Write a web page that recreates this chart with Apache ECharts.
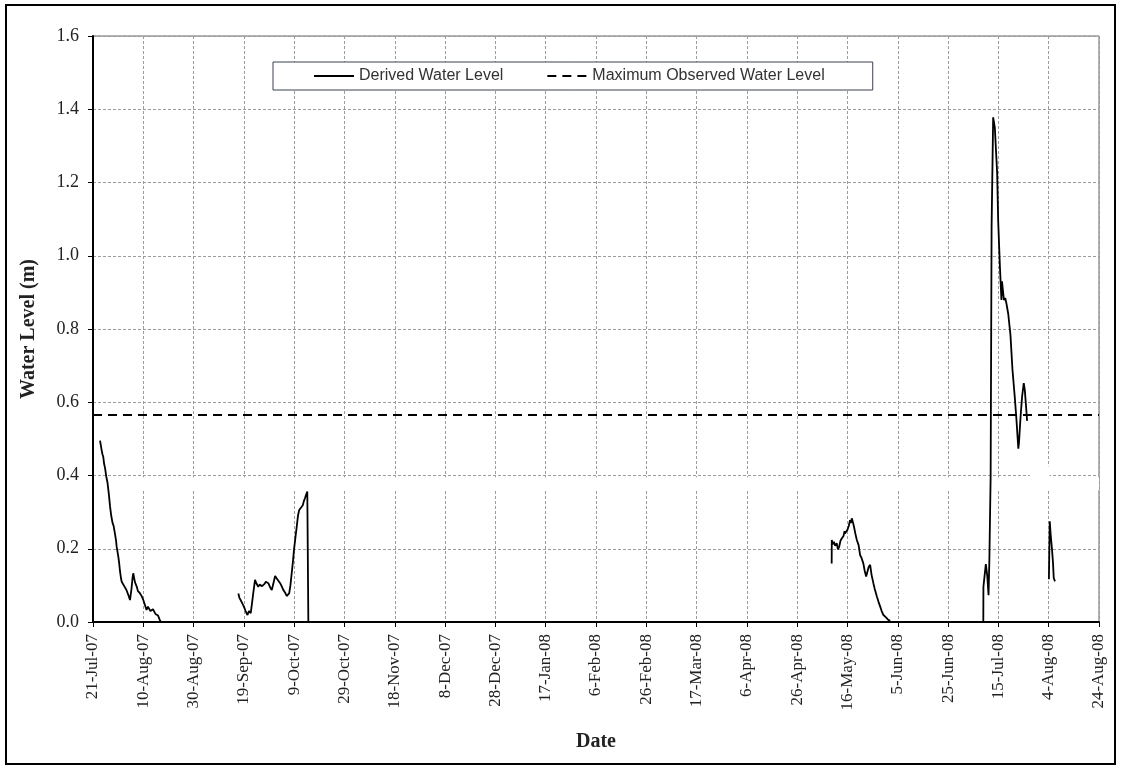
<!DOCTYPE html>
<html>
<head>
<meta charset="utf-8">
<script src="https://cdn.jsdelivr.net/npm/echarts@6/dist/echarts.min.js"></script>
<style>
html,body{margin:0;padding:0;background:#fff;}
#chart{width:1121px;height:770px;}
</style>
</head>
<body>
<div id="chart"></div>
<script>
// ---- data ----
const seriesNames = ['Derived Water Level', 'Maximum Observed Water Level'];

// Derived water level: timestamps and levels (m); null marks a gap in the record
const dates = [
  '2007-07-23 19:00','2007-07-24 04:00','2007-07-24 10:00','2007-07-24 18:00','2007-07-25 02:00','2007-07-25 10:00','2007-07-25 19:00','2007-07-26 06:00','2007-07-26 17:00','2007-07-27 02:00','2007-07-27 07:00','2007-07-27 19:00','2007-07-28 06:00','2007-07-28 19:00','2007-07-29 05:00','2007-07-29 17:00','2007-07-30 04:00','2007-07-30 10:00','2007-07-31 02:00','2007-07-31 10:00','2007-07-31 17:00','2007-08-01 04:00','2007-08-01 10:00','2007-08-02 02:00','2007-08-02 10:00','2007-08-02 17:00','2007-08-03 06:00','2007-08-03 17:00','2007-08-04 06:00','2007-08-04 17:00','2007-08-05 07:00','2007-08-05 18:00','2007-08-06 00:00','2007-08-06 10:00','2007-08-06 17:00','2007-08-07 10:00','2007-08-07 20:00','2007-08-08 06:00','2007-08-08 17:00','2007-08-09 10:00','2007-08-10 00:00','2007-08-10 14:00','2007-08-11 07:00','2007-08-11 20:00','2007-08-12 07:00','2007-08-12 20:00','2007-08-13 07:00','2007-08-13 20:00','2007-08-14 07:00','2007-08-14 20:00','2007-08-15 07:00','2007-08-15 20:00','2007-08-16 14:00','2007-08-17 00:00',
  '2007-08-20 00:00',
  '2007-08-27 00:00','2007-08-27 04:00',
  '2007-08-29 00:00',
  '2007-09-01 17:00','2007-09-01 21:00',
  '2007-09-05 00:00',
  '2007-09-10 17:00','2007-09-10 21:00',
  '2007-09-12 00:00',
  '2007-09-13 03:00','2007-09-13 07:00',
  '2007-09-15 00:00',
  '2007-09-16 19:00','2007-09-17 05:00','2007-09-17 17:00','2007-09-18 10:00','2007-09-19 00:00','2007-09-19 16:00','2007-09-20 10:00','2007-09-21 00:00','2007-09-21 17:00','2007-09-22 05:00','2007-09-22 17:00','2007-09-23 10:00','2007-09-24 00:00','2007-09-24 17:00','2007-09-25 05:00','2007-09-25 17:00','2007-09-26 05:00','2007-09-26 17:00','2007-09-27 05:00','2007-09-27 17:00','2007-09-28 05:00','2007-09-28 17:00','2007-09-29 10:00','2007-09-30 02:00','2007-09-30 17:00','2007-10-01 10:00','2007-10-01 22:00','2007-10-02 10:00','2007-10-03 10:00','2007-10-04 00:00','2007-10-04 17:00','2007-10-05 10:00','2007-10-06 00:00','2007-10-06 12:00','2007-10-07 00:00','2007-10-07 12:00','2007-10-08 00:00','2007-10-08 12:00','2007-10-08 22:00','2007-10-09 12:00','2007-10-10 00:00','2007-10-10 12:00','2007-10-11 00:00','2007-10-11 12:00','2007-10-12 10:00','2007-10-12 20:00','2007-10-13 07:00','2007-10-13 18:00','2007-10-14 05:00','2007-10-14 14:00','2007-10-14 15:00',
  '2007-10-16 00:00',
  '2007-10-18 22:00','2007-10-19 02:00',
  '2008-01-01 00:00',
  '2008-05-09 17:00','2008-05-09 18:00','2008-05-10 02:00','2008-05-10 14:00','2008-05-11 02:00','2008-05-11 17:00','2008-05-12 05:00','2008-05-12 17:00','2008-05-13 05:00','2008-05-13 17:00','2008-05-14 10:00','2008-05-14 20:00','2008-05-15 00:00','2008-05-15 12:00','2008-05-15 22:00','2008-05-16 12:00','2008-05-17 00:00','2008-05-17 08:00','2008-05-17 17:00','2008-05-18 04:00','2008-05-18 14:00','2008-05-19 04:00','2008-05-19 17:00','2008-05-20 10:00','2008-05-21 00:00','2008-05-21 14:00','2008-05-22 07:00','2008-05-22 20:00','2008-05-23 10:00','2008-05-23 22:00','2008-05-24 10:00','2008-05-25 00:00','2008-05-25 14:00','2008-05-26 07:00','2008-05-26 20:00','2008-05-27 17:00','2008-05-28 08:00','2008-05-29 00:00','2008-05-29 14:00','2008-05-30 07:00','2008-05-30 20:00','2008-05-31 10:00','2008-05-31 22:00','2008-06-01 10:00','2008-06-02 00:00',
  '2008-06-20 00:00',
  '2008-07-09 00:00','2008-07-09 01:00','2008-07-10 00:00','2008-07-10 14:00','2008-07-11 02:00','2008-07-11 10:00','2008-07-11 22:00','2008-07-12 07:00','2008-07-12 22:00','2008-07-13 07:00','2008-07-13 14:00','2008-07-14 00:00','2008-07-14 12:00','2008-07-14 22:00','2008-07-15 14:00','2008-07-16 05:00','2008-07-16 10:00','2008-07-16 14:00','2008-07-17 05:00','2008-07-17 17:00','2008-07-18 05:00','2008-07-18 22:00','2008-07-19 19:00','2008-07-20 14:00','2008-07-21 12:00','2008-07-22 05:00','2008-07-22 22:00','2008-07-23 05:00','2008-07-23 19:00','2008-07-24 10:00','2008-07-25 02:00','2008-07-25 12:00','2008-07-25 22:00','2008-07-26 10:00',
  '2008-07-30 00:00',
  '2008-08-04 02:00','2008-08-04 10:00','2008-08-04 19:00','2008-08-05 07:00','2008-08-05 17:00','2008-08-06 00:00','2008-08-06 12:00'
];
const levels = [
  0.495,0.480,0.470,0.458,0.451,0.432,0.420,0.398,0.383,0.362,0.350,0.315,0.290,0.270,0.262,0.242,0.222,0.205,0.178,0.160,0.140,0.118,0.110,0.106,0.098,0.096,0.088,0.080,0.070,0.060,0.090,0.122,0.133,0.118,0.108,0.096,0.085,0.080,0.078,0.070,0.060,0.048,0.033,0.042,0.040,0.030,0.028,0.035,0.030,0.022,0.024,0.018,0.005,0.000,
  null,
  0.006,0.006,
  null,
  0.006,0.006,
  null,
  0.008,0.008,
  null,
  0.008,0.008,
  null,
  0.078,0.066,0.060,0.050,0.042,0.030,0.019,0.030,0.024,0.050,0.078,0.115,0.105,0.096,0.102,0.100,0.098,0.101,0.104,0.110,0.112,0.106,0.095,0.087,0.105,0.126,0.120,0.115,0.106,0.098,0.087,0.080,0.071,0.074,0.078,0.100,0.133,0.165,0.197,0.232,0.260,0.290,0.306,0.310,0.319,0.330,0.338,0.348,0.356,0.356,0.000,
  null,
  0.006,0.006,
  null,
  0.160,0.224,0.212,0.219,0.208,0.215,0.198,0.206,0.222,0.228,0.235,0.248,0.242,0.238,0.251,0.262,0.278,0.270,0.283,0.272,0.260,0.240,0.224,0.210,0.183,0.175,0.160,0.140,0.124,0.128,0.150,0.156,0.128,0.106,0.090,0.069,0.055,0.042,0.030,0.019,0.022,0.012,0.013,0.004,0.005,
  null,
  0.000,0.096,0.158,0.125,0.073,0.172,0.398,1.077,1.378,1.383,1.350,1.293,1.227,1.095,0.973,0.879,0.930,0.926,0.879,0.885,0.869,0.841,0.784,0.690,0.615,0.549,0.473,0.492,0.558,0.615,0.652,0.633,0.596,0.549,
  null,
  0.117,0.275,0.238,0.200,0.162,0.120,0.111
];

// Maximum observed water level (m)
const maxObservedLevel = 0.565;

// Axis ranges / ticks
const xStartDate = '2007-07-21';
const xEndDate = '2008-08-24';
const xTickStepDays = 20;
const yMin = 0, yMax = 1.6, yStep = 0.2;
const monthNames = ['Jan','Feb','Mar','Apr','May','Jun','Jul','Aug','Sep','Oct','Nov','Dec'];

// ---- helpers ----
function toUTC(s) {
  const parts = s.split(' ');
  const dp = parts[0].split('-').map(Number);
  let h = 0, mi = 0;
  if (parts[1]) { const tp = parts[1].split(':').map(Number); h = tp[0]; mi = tp[1]; }
  return Date.UTC(dp[0], dp[1] - 1, dp[2], h, mi);
}
const DAY = 86400000;
const t0 = toUTC(xStartDate);
function toDay(s) { return (toUTC(s) - t0) / DAY; }
const xMax = toDay(xEndDate);

function dayLabel(d) {
  const dt = new Date(t0 + Math.round(d) * DAY);
  const yy = String(dt.getUTCFullYear() % 100).padStart(2, '0');
  return dt.getUTCDate() + '-' + monthNames[dt.getUTCMonth()] + '-' + yy;
}

const derivedData = dates.map((s, i) => [toDay(s), levels[i] === null ? '-' : levels[i]]);
const maxData = [[0, maxObservedLevel], [xMax, maxObservedLevel]];

const chart = echarts.init(document.getElementById('chart'), null, {renderer: 'canvas'});
const serif = 'Liberation Serif, Times New Roman, serif';
const gridLine = {show: true, lineStyle: {color: '#9c9c9c', width: 1, type: [3, 2]}};

chart.setOption({
  backgroundColor: '#fff',
  animation: false,
  graphic: [{
    type: 'rect',
    shape: {x: 6, y: 5, width: 1109, height: 759},
    style: {fill: 'none', stroke: '#000', lineWidth: 2},
    silent: true
  }],
  legend: {
    data: seriesNames,
    left: 273,
    top: 62,
    padding: [6, 48, 6, 40],
    itemGap: 43,
    itemWidth: 40,
    itemHeight: 14,
    borderColor: '#3a4150',
    borderWidth: 1,
    backgroundColor: '#fff',
    itemStyle: {opacity: 0},
    textStyle: {fontFamily: 'Liberation Sans, Arial, sans-serif', fontSize: 16, color: '#333'}
  },
  grid: {
    left: 93, top: 36, right: 22, bottom: 148,
    show: true, borderColor: '#666', borderWidth: 1, backgroundColor: 'transparent'
  },
  xAxis: {
    type: 'value',
    min: 0, max: xMax, interval: xTickStepDays,
    name: 'Date',
    nameLocation: 'middle',
    nameGap: 110,
    nameTextStyle: {fontFamily: serif, fontSize: 20, fontWeight: 'bold', color: '#222'},
    axisLine: {show: true, onZero: false, lineStyle: {color: '#000', width: 2}},
    axisTick: {show: true, length: 5, lineStyle: {color: '#000', width: 1}},
    axisLabel: {
      rotate: 90, margin: 12,
      fontFamily: serif, fontSize: 17, color: '#222',
      formatter: v => dayLabel(v)
    },
    splitLine: gridLine
  },
  yAxis: {
    type: 'value',
    min: yMin, max: yMax, interval: yStep,
    name: 'Water Level (m)',
    nameLocation: 'middle',
    nameGap: 54,
    nameTextStyle: {fontFamily: serif, fontSize: 20, fontWeight: 'bold', color: '#222'},
    axisLine: {show: true, lineStyle: {color: '#000', width: 2}},
    axisTick: {show: true, length: 5, lineStyle: {color: '#000', width: 1}},
    axisLabel: {
      margin: 14, fontFamily: serif, fontSize: 18, color: '#222',
      formatter: v => v.toFixed(1)
    },
    splitLine: gridLine
  },
  series: [
    {
      name: seriesNames[0],
      type: 'line',
      data: derivedData,
      showSymbol: false,
      symbol: 'none',
      connectNulls: false,
      lineStyle: {color: '#000', width: 1.8},
      itemStyle: {color: '#000'},
      z: 4
    },
    {
      name: seriesNames[1],
      type: 'line',
      data: maxData,
      symbol: 'none',
      lineStyle: {color: '#000', width: 2, type: [9, 6]},
      itemStyle: {color: '#000'},
      z: 3,
      markArea: {
        silent: true,
        itemStyle: {color: '#fff'},
        data: [
          [{xAxis: 0.5, yAxis: 0.36}, {xAxis: xMax, yAxis: 0.395}],
          [{xAxis: 372.5, yAxis: 0.36}, {xAxis: 380.3, yAxis: 0.425}]
        ]
      }
    }
  ]
});
</script>
</body>
</html>
